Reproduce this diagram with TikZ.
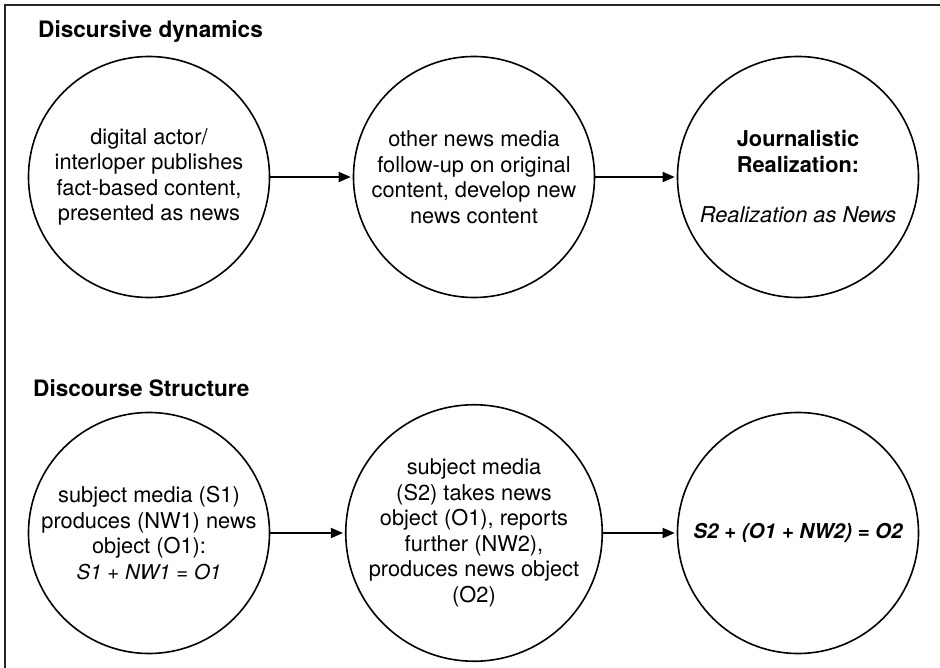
\documentclass[tikz,border=0pt]{standalone}
\usepackage{fontspec}
\setmainfont{TeX Gyre Heros}
\usetikzlibrary{arrows.meta}
\newcommand{\formula}[1]{{\fontsize{20.5}{25}\selectfont\itshape #1}}
\begin{document}
\begin{tikzpicture}[x=1pt,y=-1pt,
    stage/.style={draw, circle, line width=1.6pt, minimum size=241pt,
      inner sep=0pt, align=center, font=\fontsize{21.8}{25.5}\selectfont},
    heading/.style={anchor=base west, inner sep=0pt,
      font=\fontsize{22.6}{26}\selectfont\bfseries},
    flow/.style={-{Triangle[length=12pt,width=10pt]}, line width=1.8pt,
      shorten >=2pt}]
    \useasboundingbox (0,0) rectangle (940,668);
    % frame, only top and left edge show
    \draw[line width=1.5pt, black!85] (940,5) -- (5,5) -- (5,668);

    % upper row
    \node[heading] (dyntitle) at (38,38) {Discursive dynamics};
    \node[stage] (actor) at (149,177)
      {digital actor/\\interloper publishes\\fact-based content,\\presented as news};
    \node[stage] (followup) at (474,177)
      {other news media\\follow-up on original\\content, develop new\\news content};
    \node[stage] (realize) at (798,177)
      {\textbf{Journalistic}\\\textbf{Realization:}\\[25pt]\textit{Realization as News}};
    \draw[flow] (actor) -- (followup);
    \draw[flow] (followup) -- (realize);

    % lower row
    \node[heading] (structtitle) at (33,396) {Discourse Structure};
    \node[stage] (first) at (149,533)
      {subject media (S1)\\produces (NW1) news\\object (O1):\\\formula{S1 + NW1 = O1}};
    \node[stage] (second) at (474,533)
      {subject media\\(S2) takes news\\object (O1), reports\\further (NW2),\\produces news object\\(O2)};
    \node[stage] (third) at (798,533)
      {\formula{\bfseries S2 + (O1 + NW2) = O2}};
    \draw[flow] (first) -- (second);
    \draw[flow] (second) -- (third);
  \end{tikzpicture}
\end{document}
